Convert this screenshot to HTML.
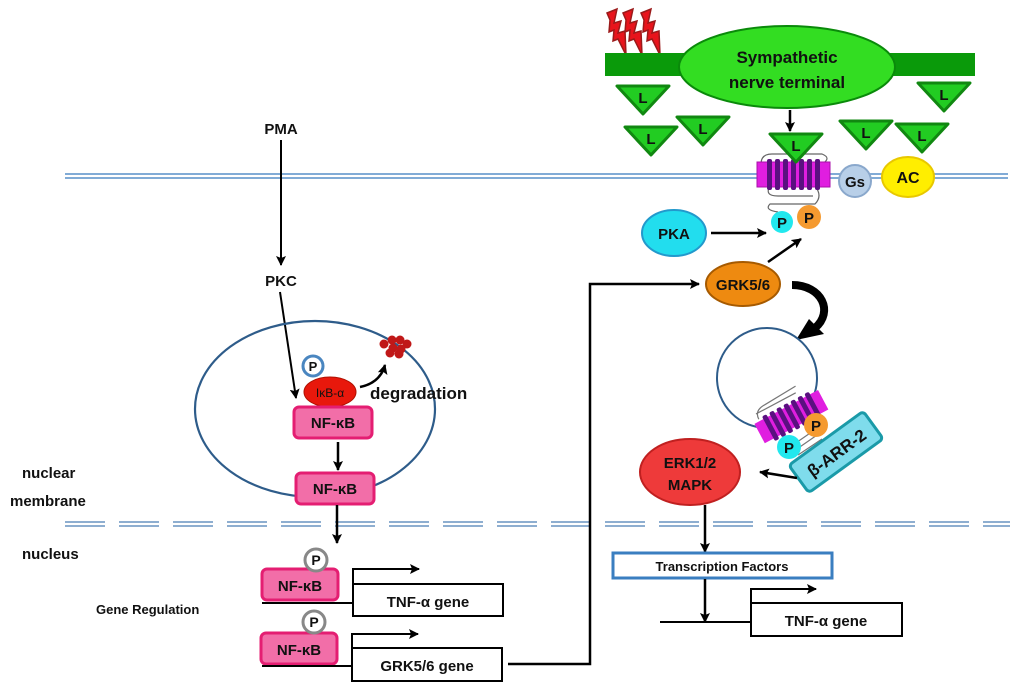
<!DOCTYPE html>
<html><head><meta charset="utf-8"><style>
html,body{margin:0;padding:0;background:#fff}
svg{display:block}
text{font-family:"Liberation Sans",Arial,sans-serif;font-weight:bold;fill:#111}
</style></head><body>
<svg width="1024" height="692" viewBox="0 0 1024 692" xmlns="http://www.w3.org/2000/svg">
<defs>
<marker id="ah" markerWidth="10" markerHeight="10" refX="9" refY="5" orient="auto" markerUnits="userSpaceOnUse"><path d="M0,0 L10,5 L0,10 L2,5 Z" fill="#000"/></marker>
<g id="bolt"><polygon points="0,0 10,-4 7,10 14,8 11,20 18,18 19,42 11,26 6,28 7,17 2,19 3,7" fill="#e8141c" stroke="#9b1a1a" stroke-width="1.5"/></g>
<g id="tri"><polygon points="-26,-14 26,-14 0,14" fill="#22cc22" stroke="#118811" stroke-width="3" stroke-linejoin="round"/><text x="0" y="3" font-size="15" text-anchor="middle">L</text></g>
</defs>

<line x1="65" y1="174" x2="1008" y2="174" stroke="#6f9fd0" stroke-width="1.8"/>
<line x1="65" y1="178" x2="1008" y2="178" stroke="#6f9fd0" stroke-width="1.8"/>
<line x1="65" y1="522" x2="1010" y2="522" stroke="#7fa3c9" stroke-width="1.8" stroke-dasharray="40 14"/>
<line x1="65" y1="526" x2="1010" y2="526" stroke="#7fa3c9" stroke-width="1.8" stroke-dasharray="40 14"/>

<use href="#bolt" x="607" y="13"/>
<use href="#bolt" x="623" y="13"/>
<use href="#bolt" x="641" y="13"/>
<rect x="605" y="53" width="370" height="23" fill="#0a9a0a"/>
<ellipse cx="787" cy="67" rx="108" ry="41" fill="#33dd22" stroke="#0a8a0a" stroke-width="2"/>
<text x="787" y="63" font-size="17" text-anchor="middle">Sympathetic</text>
<text x="787" y="88" font-size="17" text-anchor="middle">nerve terminal</text>
<line x1="790" y1="110" x2="790" y2="131" stroke="#000" stroke-width="2.5" marker-end="url(#ah)"/>

<use href="#tri" x="643" y="100"/>
<use href="#tri" x="651" y="141"/>
<use href="#tri" x="703" y="131"/>
<use href="#tri" x="866" y="135"/>
<use href="#tri" x="922" y="138"/>
<use href="#tri" x="944" y="97"/>

<path d="M762,170 q-4,-16 10,-16 l50,0 q10,4 0,10 M770,186 q-6,10 8,10 l35,0 M815,186 q8,10 0,18 l-45,0 q-6,6 8,8" fill="none" stroke="#666" stroke-width="1.2"/>
<rect x="757" y="162" width="73" height="25" fill="#e01ee0" stroke="#aa10aa" stroke-width="1"/>
<g fill="#5a1080"><rect x="767" y="159" width="5" height="31" rx="2"/><rect x="775" y="159" width="5" height="31" rx="2"/><rect x="783" y="159" width="5" height="31" rx="2"/><rect x="791" y="159" width="5" height="31" rx="2"/><rect x="799" y="159" width="5" height="31" rx="2"/><rect x="807" y="159" width="5" height="31" rx="2"/><rect x="815" y="159" width="5" height="31" rx="2"/></g>
<use href="#tri" x="796" y="148"/>
<circle cx="855" cy="181" r="16" fill="#b8cfe8" stroke="#8aa8cc" stroke-width="2"/>
<text x="855" y="187" font-size="15" text-anchor="middle">Gs</text>
<ellipse cx="908" cy="177" rx="26" ry="20" fill="#ffee00" stroke="#e8c800" stroke-width="2"/>
<text x="908" y="183" font-size="16" text-anchor="middle">AC</text>

<ellipse cx="674" cy="233" rx="32" ry="23" fill="#22ddee" stroke="#2299cc" stroke-width="2"/>
<text x="674" y="239" font-size="15" text-anchor="middle">PKA</text>
<line x1="711" y1="233" x2="766" y2="233" stroke="#000" stroke-width="2.5" marker-end="url(#ah)"/>
<circle cx="782" cy="222" r="11" fill="#22e8ee"/>
<text x="782" y="228" font-size="15" text-anchor="middle">P</text>
<circle cx="809" cy="217" r="12" fill="#f59a30"/>
<text x="809" y="223" font-size="15" text-anchor="middle">P</text>

<ellipse cx="743" cy="284" rx="37" ry="22" fill="#ee8a10" stroke="#a65a00" stroke-width="2"/>
<text x="743" y="290" font-size="15" text-anchor="middle">GRK5/6</text>
<line x1="768" y1="262" x2="801" y2="239" stroke="#000" stroke-width="2.5" marker-end="url(#ah)"/>
<path d="M792,285 C822,285 834,312 815,328" fill="none" stroke="#000" stroke-width="8"/>
<polygon points="796,340 809,319 824,334" fill="#000"/>

<circle cx="767" cy="378" r="50" fill="#fff" stroke="#2e5c8a" stroke-width="2"/>
<g transform="translate(790,414) rotate(-28)">
<path d="M-30,-10 q0,-10 12,-10 l36,-2 M-30,-16 l45,0" fill="none" stroke="#777" stroke-width="1.2"/>
<rect x="-36" y="-8" width="72" height="22" fill="#e01ee0"/>
<g fill="#5a1080"><rect x="-26" y="-11" width="5" height="28" rx="2"/><rect x="-18" y="-11" width="5" height="28" rx="2"/><rect x="-10" y="-11" width="5" height="28" rx="2"/><rect x="-2" y="-11" width="5" height="28" rx="2"/><rect x="6" y="-11" width="5" height="28" rx="2"/><rect x="14" y="-11" width="5" height="28" rx="2"/><rect x="22" y="-11" width="5" height="28" rx="2"/></g>
</g>
<path d="M790,447 l26,-18 M794,451 l26,-18 M798,455 l24,-16" stroke="#777" stroke-width="1.2"/>
<circle cx="816" cy="425" r="12" fill="#f59a30"/>
<text x="816" y="431" font-size="15" text-anchor="middle">P</text>
<circle cx="789" cy="447" r="12" fill="#22e8ee"/>
<text x="789" y="453" font-size="15" text-anchor="middle">P</text>
<g transform="translate(836,452) rotate(-36)">
<rect x="-46" y="-17" width="92" height="34" rx="4" fill="#7fdcec" stroke="#1a9aa8" stroke-width="3"/>
<text x="0" y="7" font-size="17" text-anchor="middle">β-ARR-2</text>
</g>

<ellipse cx="690" cy="472" rx="50" ry="33" fill="#ee3a3a" stroke="#c02020" stroke-width="2"/>
<text x="690" y="468" font-size="15" text-anchor="middle">ERK1/2</text>
<text x="690" y="490" font-size="15" text-anchor="middle">MAPK</text>
<line x1="797" y1="478" x2="760" y2="472" stroke="#000" stroke-width="2.5" marker-end="url(#ah)"/>
<line x1="705" y1="505" x2="705" y2="552" stroke="#000" stroke-width="2.5" marker-end="url(#ah)"/>
<rect x="613" y="553" width="219" height="25" fill="#fff" stroke="#3a7ec0" stroke-width="3"/>
<text x="722" y="571" font-size="13" text-anchor="middle">Transcription Factors</text>
<line x1="705" y1="579" x2="705" y2="622" stroke="#000" stroke-width="2.5" marker-end="url(#ah)"/>
<line x1="660" y1="622" x2="752" y2="622" stroke="#000" stroke-width="2"/>
<polyline points="751,622 751,589 816,589" fill="none" stroke="#000" stroke-width="2" marker-end="url(#ah)"/>
<rect x="751" y="603" width="151" height="33" fill="#fff" stroke="#000" stroke-width="2"/>
<text x="826" y="626" font-size="15" text-anchor="middle">TNF-α gene</text>

<text x="281" y="134" font-size="15" text-anchor="middle">PMA</text>
<line x1="281" y1="140" x2="281" y2="265" stroke="#000" stroke-width="2" marker-end="url(#ah)"/>
<text x="281" y="286" font-size="15" text-anchor="middle">PKC</text>
<line x1="280" y1="292" x2="296" y2="398" stroke="#000" stroke-width="2" marker-end="url(#ah)"/>

<ellipse cx="315" cy="409" rx="120" ry="88" fill="none" stroke="#2e5c8a" stroke-width="2.2"/>
<ellipse cx="330" cy="392" rx="26" ry="15" fill="#e8180c" stroke="#b01000" stroke-width="1"/>
<text x="330" y="397" font-size="12" text-anchor="middle" style="font-weight:normal">IκB-α</text>
<circle cx="313" cy="366" r="10" fill="#fff" stroke="#4a86c0" stroke-width="3"/>
<text x="313" y="371" font-size="13" text-anchor="middle">P</text>
<path d="M360,387 q20,-4 25,-22" fill="none" stroke="#000" stroke-width="2.5" marker-end="url(#ah)"/>
<g fill="#c01818"><circle cx="384" cy="344" r="4.5"/><circle cx="392" cy="340" r="4.5"/><circle cx="400" cy="340" r="4.5"/><circle cx="407" cy="344" r="4.5"/><circle cx="393" cy="348" r="4.5"/><circle cx="401" cy="349" r="4.5"/><circle cx="390" cy="353" r="4.5"/><circle cx="399" cy="354" r="4.5"/></g>
<text x="370" y="399" font-size="17">degradation</text>

<rect x="294" y="407" width="78" height="31" rx="5" fill="#f26ea8" stroke="#e41e72" stroke-width="3"/>
<text x="333" y="428" font-size="15" text-anchor="middle">NF-κB</text>
<line x1="338" y1="442" x2="338" y2="470" stroke="#000" stroke-width="2.5" marker-end="url(#ah)"/>
<rect x="296" y="473" width="78" height="31" rx="5" fill="#f26ea8" stroke="#e41e72" stroke-width="3"/>
<text x="335" y="494" font-size="15" text-anchor="middle">NF-κB</text>
<line x1="337" y1="505" x2="337" y2="543" stroke="#000" stroke-width="2.5" marker-end="url(#ah)"/>

<text x="22" y="478" font-size="15">nuclear</text>
<text x="10" y="506" font-size="15">membrane</text>
<text x="22" y="559" font-size="15">nucleus</text>
<text x="96" y="614" font-size="13">Gene Regulation</text>

<rect x="262" y="569" width="76" height="31" rx="5" fill="#f26ea8" stroke="#e41e72" stroke-width="3"/>
<text x="300" y="591" font-size="15" text-anchor="middle">NF-κB</text>
<circle cx="316" cy="560" r="11" fill="#fff" stroke="#888" stroke-width="3"/>
<text x="316" y="565" font-size="14" text-anchor="middle">P</text>
<line x1="262" y1="603" x2="353" y2="603" stroke="#000" stroke-width="2"/>
<polyline points="353,603 353,569 419,569" fill="none" stroke="#000" stroke-width="2" marker-end="url(#ah)"/>
<rect x="353" y="584" width="150" height="32" fill="#fff" stroke="#000" stroke-width="2"/>
<text x="428" y="607" font-size="15" text-anchor="middle">TNF-α gene</text>

<rect x="261" y="633" width="76" height="31" rx="5" fill="#f26ea8" stroke="#e41e72" stroke-width="3"/>
<text x="299" y="655" font-size="15" text-anchor="middle">NF-κB</text>
<circle cx="314" cy="622" r="11" fill="#fff" stroke="#888" stroke-width="3"/>
<text x="314" y="627" font-size="14" text-anchor="middle">P</text>
<line x1="262" y1="666" x2="352" y2="666" stroke="#000" stroke-width="2"/>
<polyline points="352,666 352,634 418,634" fill="none" stroke="#000" stroke-width="2" marker-end="url(#ah)"/>
<rect x="352" y="648" width="150" height="33" fill="#fff" stroke="#000" stroke-width="2"/>
<text x="427" y="671" font-size="15" text-anchor="middle">GRK5/6 gene</text>

<polyline points="508,664 590,664 590,284 699,284" fill="none" stroke="#000" stroke-width="2.5" marker-end="url(#ah)"/>
</svg>
</body></html>
